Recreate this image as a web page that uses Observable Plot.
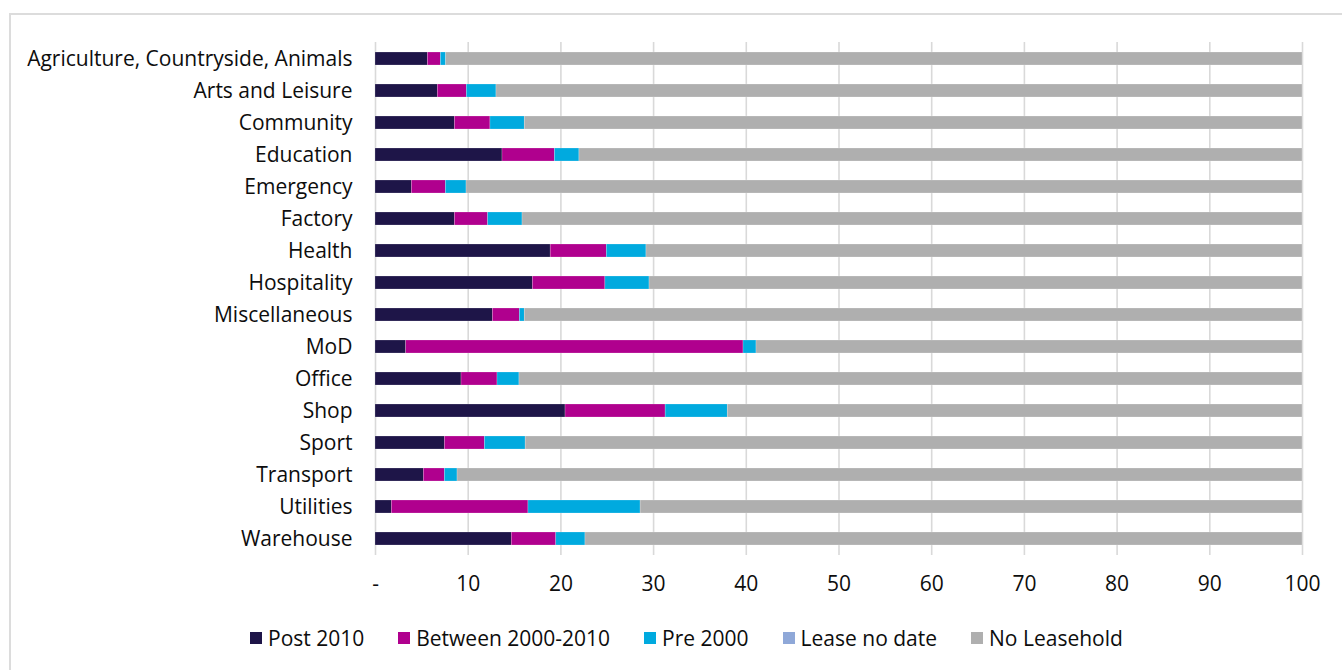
<!DOCTYPE html>
<html>
<head>
<meta charset="utf-8">
<script src="https://cdn.jsdelivr.net/npm/d3@7"></script>
<script src="https://cdn.jsdelivr.net/npm/@observablehq/plot@0.6"></script>
<style>
  html, body { margin: 0; padding: 0; background: #fff; }
  body { width: 1342px; height: 670px; position: relative; overflow: hidden; font-family: "Open Sans", sans-serif; }
  #frame { position: absolute; left: 9px; top: 13px; width: 1400px; height: 700px; border-top: 2px solid #dcdcdc; border-left: 2px solid #dcdcdc; box-sizing: border-box; }
  #chart { position: absolute; left: 0; top: 0; }
  #legend { position: absolute; left: 250px; top: 624px; display: flex; gap: 34px; font-size: 21px; color: #0d0d0d; white-space: nowrap; }
  #legend .item { display: flex; align-items: center; gap: 6px; }
  #legend .sw { width: 12px; height: 12px; display: inline-block; }
</style>
</head>
<body>
<div id="frame"></div>
<div id="chart"></div>
<div id="legend"></div>
<script>
// Share of properties by lease start period, per property sector (%)
const categories = [
  "Agriculture, Countryside, Animals", "Arts and Leisure", "Community", "Education",
  "Emergency", "Factory", "Health", "Hospitality", "Miscellaneous", "MoD",
  "Office", "Shop", "Sport", "Transport", "Utilities", "Warehouse"
];
const seriesNames = ["Post 2010", "Between 2000-2010", "Pre 2000", "Lease no date", "No Leasehold"];
const seriesColors = ["#1e1548", "#b0008e", "#00aadf", "#8fa8d8", "#afafaf"];

const post2010    = [5.65, 6.72, 8.56, 13.7, 3.92, 8.56, 18.9, 16.97, 12.66, 3.31, 9.28, 20.5, 7.48, 5.21, 1.76, 14.7];
const between0010 = [1.4, 3.13, 3.84, 5.65, 3.67, 3.59, 6.05, 7.83, 2.91, 36.39, 3.88, 10.8, 4.32, 2.27, 14.74, 4.8];
const pre2000     = [0.57, 3.2, 3.7, 2.65, 2.23, 3.71, 4.28, 4.76, 0.53, 1.4, 2.37, 6.7, 4.4, 1.37, 12.1, 3.15];
const leaseNoDate = [0, 0, 0, 0, 0, 0, 0, 0, 0, 0, 0, 0, 0, 0, 0, 0];
const noLeasehold = [92.38, 86.95, 83.9, 78.0, 90.18, 84.14, 70.77, 70.44, 83.9, 58.9, 84.47, 62.0, 83.8, 91.15, 71.4, 77.35];

const xTicks = [0, 10, 20, 30, 40, 50, 60, 70, 80, 90, 100];

const seriesValues = [post2010, between0010, pre2000, leaseNoDate, noLeasehold];
const rows = [];
categories.forEach((cat, i) => {
  seriesNames.forEach((s, j) => rows.push({ sector: cat, series: s, value: seriesValues[j][i] }));
});

const chart = Plot.plot({
  width: 1342,
  height: 610,
  marginLeft: 375,
  marginRight: 40,
  marginTop: 42,
  marginBottom: 55,
  style: { fontFamily: "'Open Sans', sans-serif", fontSize: "21px", color: "#0d0d0d", background: "transparent" },
  x: { domain: [0, 100], ticks: xTicks },
  y: { domain: categories, paddingInner: 0.6, paddingOuter: 0.3 },
  color: { domain: seriesNames, range: seriesColors },
  marks: [
    Plot.gridX(xTicks, { stroke: "#d9d9d9", strokeOpacity: 1, strokeWidth: 1.6 }),
    Plot.barX(rows, Plot.stackX({
      x: "value", y: "sector", fill: "series", z: "series",
      stroke: "#ffffff", strokeOpacity: 0.35, strokeWidth: 0.6
    })),
    Plot.axisY({ tickSize: 0, tickPadding: 23, label: null, fontSize: 21 }),
    Plot.axisX(xTicks, { tickSize: 0, tickPadding: 21, label: null, fontSize: 21,
      tickFormat: d => d === 0 ? "-" : String(d) })
  ]
});
document.getElementById("chart").appendChild(chart);

const legend = document.getElementById("legend");
seriesNames.forEach((s, j) => {
  const item = document.createElement("div");
  item.className = "item";
  const sw = document.createElement("span");
  sw.className = "sw";
  sw.style.background = seriesColors[j];
  const label = document.createElement("span");
  label.textContent = s;
  item.appendChild(sw);
  item.appendChild(label);
  legend.appendChild(item);
});
</script>
</body>
</html>
